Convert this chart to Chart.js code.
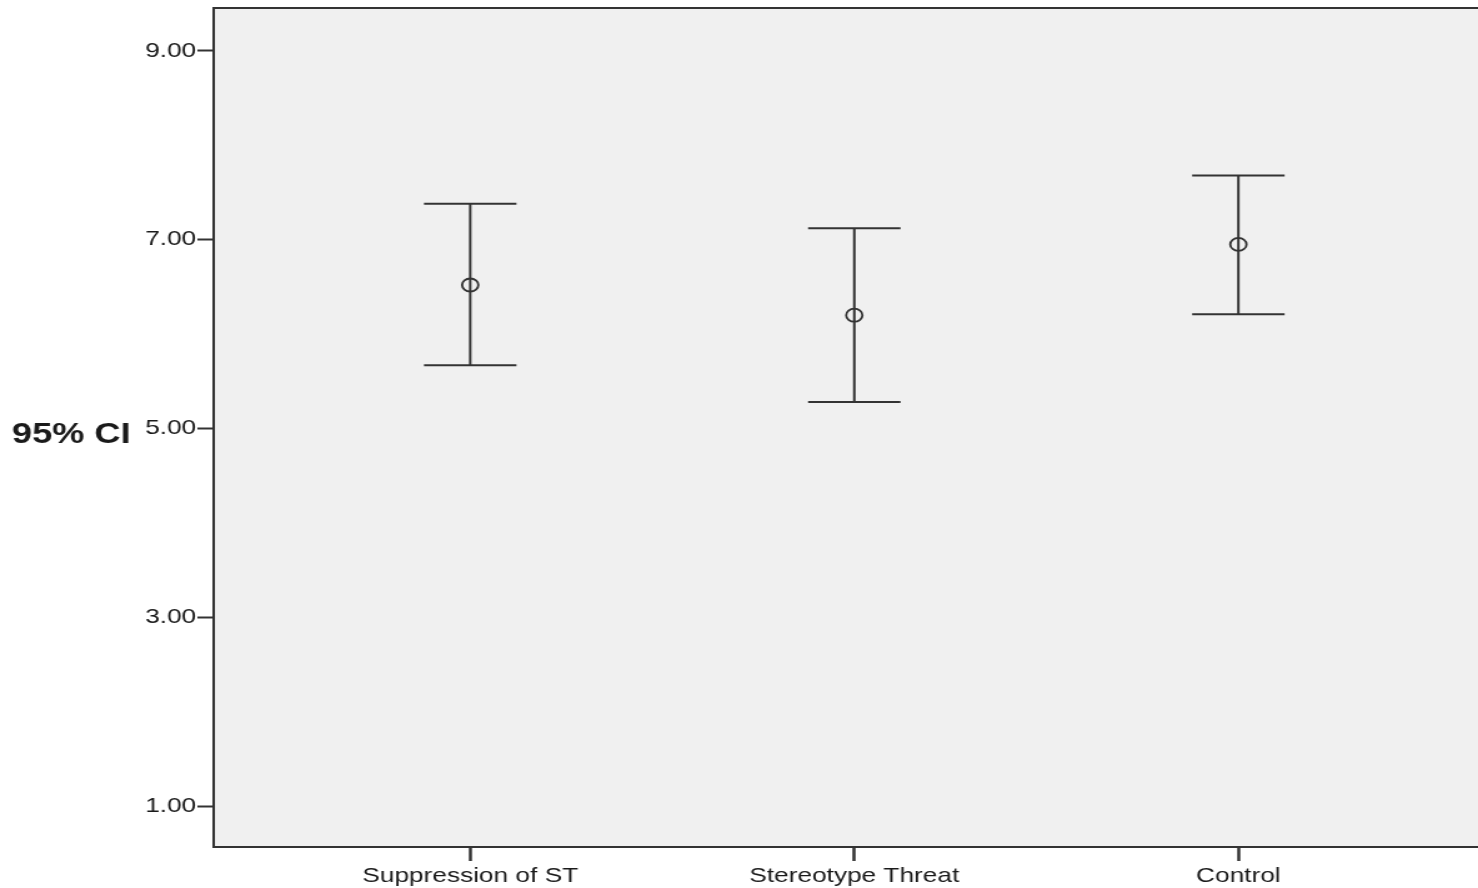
<!DOCTYPE html>
<html>
<head>
<meta charset="utf-8">
<script src="https://cdn.jsdelivr.net/npm/chart.js@4.4.1/dist/chart.umd.min.js"></script>
<style>
  html, body { margin: 0; padding: 0; background: #fff; overflow: hidden; }
  /* the source picture is stretched sideways, so stretch the canvas the same way */
  .wrap { width: 1183px; height: 888px; transform: scaleX(1.2494); transform-origin: 0 0; }
</style>
</head>
<body>
<div class="wrap"><canvas id="chart" width="1183" height="888"></canvas></div>
<script>
const groups = ['Suppression of ST', 'Stereotype Threat', 'Control'];
const means = [6.52, 6.20, 6.95];
const lower = [5.67, 5.28, 6.21];
const upper = [7.38, 7.12, 7.68];
const yTicks = [1, 3, 5, 7, 9];
const yTitle = '95% CI';

const ink = '#333333';
const font = 'Liberation Sans, Arial, sans-serif';

// plot background + frame (left, top, bottom), and the horizontal y title
const framePlugin = {
  id: 'frame',
  beforeDraw(chart){
    const {ctx, chartArea: a} = chart;
    ctx.save();
    ctx.fillStyle = '#f0f0f0';
    ctx.fillRect(a.left, a.top, a.right - a.left, a.bottom - a.top);
    ctx.strokeStyle = ink;
    ctx.lineWidth = 2;
    ctx.beginPath();
    ctx.moveTo(a.right + 2, a.top);
    ctx.lineTo(a.left, a.top);
    ctx.lineTo(a.left, a.bottom);
    ctx.lineTo(a.right + 2, a.bottom);
    ctx.stroke();
    ctx.restore();
  },
  afterDraw(chart){
    const {ctx} = chart;
    const y = chart.scales.y.getPixelForValue(5);
    ctx.save();
    ctx.fillStyle = '#1a1a1a';
    ctx.font = 'bold 29px ' + font;
    ctx.textBaseline = 'alphabetic';
    ctx.fillText(yTitle, 9.5, y + 14);
    ctx.restore();
  }
};

const datasets = [];
groups.forEach((g, i) => {
  datasets.push({
    data: [{x: i + 1, y: lower[i]}, {x: i + 1, y: upper[i]}],
    showLine: true,
    borderColor: ink,
    borderWidth: 2,
    pointRadius: 0,
    order: 3
  });
});
datasets.push({
  data: groups.flatMap((g, i) => [{x: i + 1, y: lower[i]}, {x: i + 1, y: upper[i]}]),
  pointStyle: 'line',
  pointRadius: 37,
  pointBorderColor: ink,
  pointBorderWidth: 2,
  order: 2
});
datasets.push({
  data: means.map((m, i) => ({x: i + 1, y: m})),
  pointStyle: 'circle',
  pointRadius: 6.5,
  pointBorderColor: ink,
  pointBackgroundColor: 'rgba(0,0,0,0)',
  pointBorderWidth: 1.8,
  order: 1
});

new Chart(document.getElementById('chart'), {
  type: 'scatter',
  data: { datasets: datasets },
  plugins: [framePlugin],
  options: {
    responsive: false,
    animation: false,
    devicePixelRatio: 1,
    events: [],
    clip: false,
    layout: { autoPadding: false, padding: { top: 8, right: 0, bottom: 0, left: 0 } },
    plugins: { legend: { display: false }, tooltip: { enabled: false } },
    scales: {
      x: {
        type: 'linear',
        min: 0.332,
        max: 3.624,
        afterBuildTicks: (scale) => { scale.ticks = groups.map((g, i) => ({value: i + 1})); },
        afterFit: (scale) => {
          scale.height = 41;
          scale.paddingLeft = 0;
          scale.paddingRight = 0;
        },
        ticks: {
          callback: (v) => groups[v - 1],
          color: '#1a1a1a',
          font: { family: font, size: 21 },
          padding: 3,
          maxRotation: 0,
          autoSkip: false
        },
        grid: { drawOnChartArea: false, tickLength: 14, tickWidth: 2.5, tickColor: ink },
        border: { display: false }
      },
      y: {
        min: 0.569,
        max: 9.453,
        afterBuildTicks: (scale) => { scale.ticks = yTicks.map(v => ({value: v})); },
        afterFit: (scale) => {
          scale.width = 171;
          scale.paddingTop = 0;
          scale.paddingBottom = 0;
        },
        ticks: {
          callback: (v) => v.toFixed(2),
          color: '#1a1a1a',
          font: { family: font, size: 21 },
          padding: 1
        },
        grid: { drawOnChartArea: false, tickLength: 13, tickWidth: 2, tickColor: ink },
        border: { display: false }
      }
    }
  }
});
</script>
</body>
</html>
